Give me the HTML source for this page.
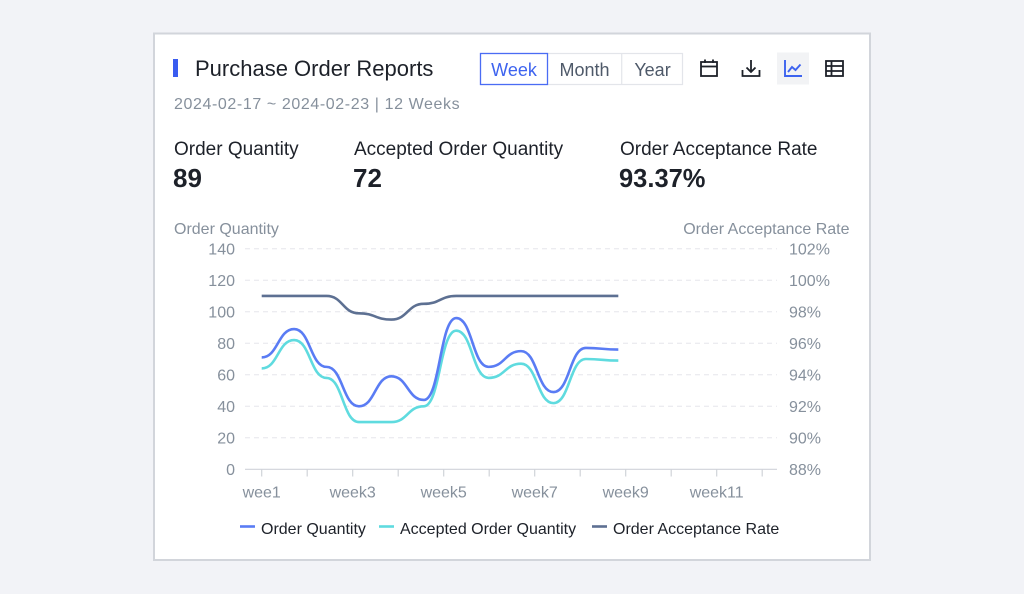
<!DOCTYPE html>
<html>
<head>
<meta charset="utf-8">
<style>
  html,body{margin:0;padding:0;background:#f2f3f7;}
  body{width:1024px;height:594px;overflow:hidden;}
  svg{display:block;font-family:"Liberation Sans",Arial,sans-serif;}
</style>
</head>
<body>
<svg id="s" width="1024" height="594" viewBox="0 0 1024 594" xmlns="http://www.w3.org/2000/svg">
  <rect x="0" y="0" width="1024" height="594" fill="#f2f3f7"/>
  <!-- card -->
  <rect x="154" y="33.5" width="716" height="526.5" fill="#ffffff" stroke="#d2d5db" stroke-width="2"/>

  <!-- title -->
  <rect x="173" y="59" width="5" height="18" fill="#3a5cf0"/>
  <text x="195" y="76" font-size="22" fill="#1d2129">Purchase Order Reports</text>

  <!-- segmented control -->
  <rect x="480.5" y="53.5" width="202" height="31" fill="#fff" stroke="#e3e5ea" stroke-width="1.2"/>
  <line x1="621.7" y1="54" x2="621.7" y2="84" stroke="#e3e5ea" stroke-width="1.2"/>
  <rect x="480.5" y="53.5" width="67" height="31" fill="#fff" stroke="#4a6cf4" stroke-width="1.3"/>
  <text x="514" y="76" font-size="18" fill="#3d63ef" text-anchor="middle">Week</text>
  <text x="584.5" y="76" font-size="18" fill="#4e5969" text-anchor="middle">Month</text>
  <text x="652.5" y="76" font-size="18" fill="#4e5969" text-anchor="middle">Year</text>

  <!-- calendar icon -->
  <g fill="none" stroke="#1d2129" stroke-width="1.8">
    <rect x="701" y="62" width="16" height="14"/>
    <line x1="701" y1="66.5" x2="717" y2="66.5"/>
    <line x1="705" y1="59.5" x2="705" y2="63"/>
    <line x1="713" y1="59.5" x2="713" y2="63"/>
  </g>
  <!-- download icon -->
  <g fill="none" stroke="#1d2129" stroke-width="1.8">
    <line x1="751" y1="60" x2="751" y2="72"/>
    <polyline points="746.5,67.5 751,72 755.5,67.5"/>
    <polyline points="742.5,70 742.5,76 759.5,76 759.5,70"/>
  </g>
  <!-- line chart icon -->
  <rect x="777" y="52.5" width="32" height="32" fill="#f2f3f5"/>
  <g fill="none" stroke="#3d63ef" stroke-width="1.9">
    <polyline points="785,60 785,76 802,76"/>
    <polyline points="788,72 792,67 795.5,70 800.5,64.5"/>
  </g>
  <!-- table icon -->
  <g fill="none" stroke="#1d2129" stroke-width="1.8">
    <rect x="826" y="61" width="17" height="15"/>
    <line x1="826" y1="66" x2="843" y2="66"/>
    <line x1="826" y1="71" x2="843" y2="71"/>
    <line x1="831.5" y1="61" x2="831.5" y2="76"/>
  </g>

  <!-- date line -->
  <text x="174" y="109" font-size="16" fill="#86909c" letter-spacing="0.6">2024-02-17 ~ 2024-02-23 | 12 Weeks</text>

  <!-- stats -->
  <text x="174" y="155" font-size="19" fill="#1d2129">Order Quantity</text>
  <text x="354" y="155" font-size="19" fill="#1d2129">Accepted Order Quantity</text>
  <text x="620" y="155" font-size="19" fill="#1d2129">Order Acceptance Rate</text>
  <text x="173" y="187" font-size="26" font-weight="bold" fill="#1d2129">89</text>
  <text x="353" y="187" font-size="26" font-weight="bold" fill="#1d2129">72</text>
  <text x="619" y="187" font-size="25.5" font-weight="bold" fill="#1d2129">93.37%</text>

  <!-- axis names -->
  <text x="174" y="234" font-size="16" fill="#86909c">Order Quantity</text>
  <text x="849.5" y="234" font-size="16" fill="#86909c" text-anchor="end">Order Acceptance Rate</text>

  <!-- grid -->
  <g stroke="#e5e6eb" stroke-width="1" stroke-dasharray="5 4">
    <line x1="245" y1="248.7" x2="777" y2="248.7"/>
    <line x1="245" y1="280.2" x2="777" y2="280.2"/>
    <line x1="245" y1="311.7" x2="777" y2="311.7"/>
    <line x1="245" y1="343.2" x2="777" y2="343.2"/>
    <line x1="245" y1="374.8" x2="777" y2="374.8"/>
    <line x1="245" y1="406.3" x2="777" y2="406.3"/>
    <line x1="245" y1="437.8" x2="777" y2="437.8"/>
  </g>
  <line x1="245" y1="469.3" x2="777" y2="469.3" stroke="#d0d3d9" stroke-width="1.2"/>
  <g stroke="#d0d3d9" stroke-width="1.2">
    <line x1="261.7" y1="469.3" x2="261.7" y2="476.5"/>
    <line x1="307.2" y1="469.3" x2="307.2" y2="476.5"/>
    <line x1="352.7" y1="469.3" x2="352.7" y2="476.5"/>
    <line x1="398.2" y1="469.3" x2="398.2" y2="476.5"/>
    <line x1="443.7" y1="469.3" x2="443.7" y2="476.5"/>
    <line x1="489.2" y1="469.3" x2="489.2" y2="476.5"/>
    <line x1="534.7" y1="469.3" x2="534.7" y2="476.5"/>
    <line x1="580.2" y1="469.3" x2="580.2" y2="476.5"/>
    <line x1="625.7" y1="469.3" x2="625.7" y2="476.5"/>
    <line x1="671.2" y1="469.3" x2="671.2" y2="476.5"/>
    <line x1="716.7" y1="469.3" x2="716.7" y2="476.5"/>
    <line x1="762.2" y1="469.3" x2="762.2" y2="476.5"/>
  </g>

  <!-- left tick labels -->
  <g font-size="16" fill="#86909c" text-anchor="end">
    <text x="235" y="254.3">140</text>
    <text x="235" y="285.8">120</text>
    <text x="235" y="317.3">100</text>
    <text x="235" y="348.8">80</text>
    <text x="235" y="380.4">60</text>
    <text x="235" y="411.9">40</text>
    <text x="235" y="443.4">20</text>
    <text x="235" y="474.9">0</text>
  </g>
  <!-- right tick labels -->
  <g font-size="16" fill="#86909c">
    <text x="789" y="254.3">102%</text>
    <text x="789" y="285.8">100%</text>
    <text x="789" y="317.3">98%</text>
    <text x="789" y="348.8">96%</text>
    <text x="789" y="380.4">94%</text>
    <text x="789" y="411.9">92%</text>
    <text x="789" y="443.4">90%</text>
    <text x="789" y="474.9">88%</text>
  </g>
  <!-- x labels -->
  <g font-size="16" fill="#86909c" text-anchor="middle">
    <text x="261.7" y="497.5">wee1</text>
    <text x="352.7" y="497.5">week3</text>
    <text x="443.7" y="497.5">week5</text>
    <text x="534.7" y="497.5">week7</text>
    <text x="625.7" y="497.5">week9</text>
    <text x="716.7" y="497.5">week11</text>
  </g>

  <!-- series -->
  <path id="pRate" fill="none" stroke="#5d7092" stroke-width="2.6" stroke-linejoin="round"/>
  <path id="pAcc" fill="none" stroke="#5fdbdf" stroke-width="2.6" stroke-linejoin="round"/>
  <path id="pOrd" fill="none" stroke="#5a7cf4" stroke-width="2.6" stroke-linejoin="round"/>

  <!-- legend -->
  <line x1="240" y1="526.5" x2="255" y2="526.5" stroke="#5a7cf4" stroke-width="2.6"/>
  <text x="261" y="534" font-size="16" fill="#1d2129">Order Quantity</text>
  <line x1="379" y1="526.5" x2="394" y2="526.5" stroke="#5fdbdf" stroke-width="2.6"/>
  <text x="400" y="534" font-size="16" fill="#1d2129">Accepted Order Quantity</text>
  <line x1="592" y1="526.5" x2="607" y2="526.5" stroke="#5d7092" stroke-width="2.6"/>
  <text x="613" y="534" font-size="16" fill="#1d2129">Order Acceptance Rate</text>
</svg>
<script>
(function(){
  function bumpPath(vals){
    var d="";
    var px,py;
    for(var i=0;i<vals.length;i++){
      var x=261.7+i*32.42, y=469.3-vals[i]*1.5757;
      if(i===0){ d+="M"+x.toFixed(2)+","+y.toFixed(2); }
      else{
        var h=(x-px)*0.5;
        d+="C"+(px+h).toFixed(2)+","+py.toFixed(2)+","+(x-h).toFixed(2)+","+y.toFixed(2)+","+x.toFixed(2)+","+y.toFixed(2);
      }
      px=x;py=y;
    }
    return d;
  }
  var ord=[71,89,65,40,59,44,96,65,75,49,77,76];
  var acc=[64,82,58,30,30,40,88,58,67,42,70,69];
  var rate=[110,110,110,99,95,105,110,110,110,110,110,110];
  document.getElementById("pOrd").setAttribute("d",bumpPath(ord));
  document.getElementById("pAcc").setAttribute("d",bumpPath(acc));
  document.getElementById("pRate").setAttribute("d",bumpPath(rate));
})();
</script>
</body>
</html>
